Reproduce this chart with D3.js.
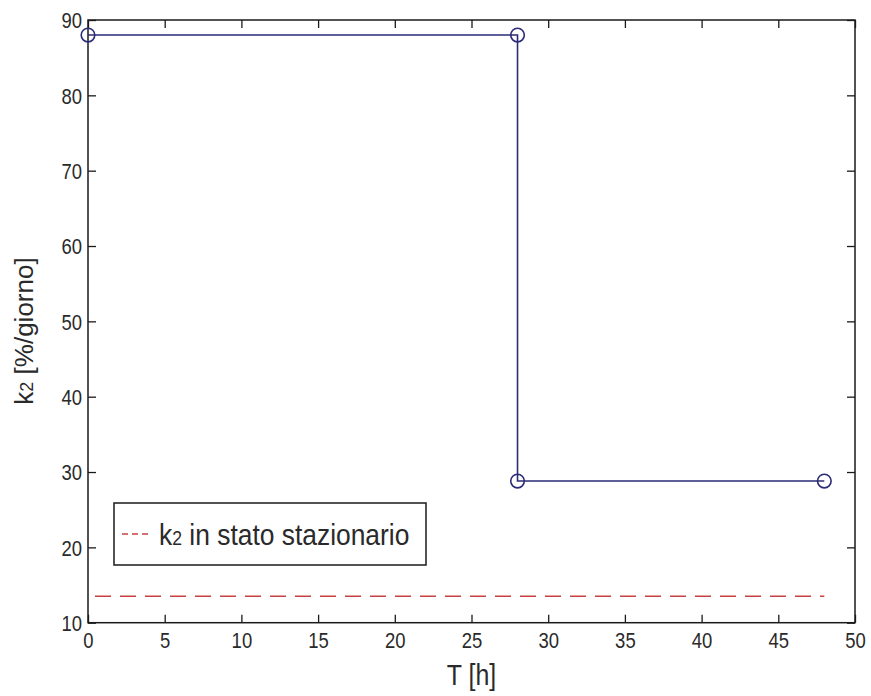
<!DOCTYPE html>
<html>
<head>
<meta charset="utf-8">
<script src="https://cdn.jsdelivr.net/npm/d3@7"></script>
<style>
  html, body { margin: 0; padding: 0; background: #fff; }
  svg { display: block; font-family: "Liberation Sans", Arial, Helvetica, sans-serif; }
</style>
</head>
<body>
<svg id="chart" width="871" height="696"></svg>
<script>
// Time points [h] and k2 values [%/giorno] of the step profile
const timeH = [0, 28, 28, 48];
const k2Values = [88, 88, 28.8, 28.8];

// Steady-state k2 reference line
const steadyK2 = 13.5;
const steadyRange = [0, 48];

// Axis ticks
const xTicks = [0, 5, 10, 15, 20, 25, 30, 35, 40, 45, 50];
const yTicks = [10, 20, 30, 40, 50, 60, 70, 80, 90];

const xLabel = "T [h]";
const legendLabel = ["k", "2", " in stato stazionario"];

const W = 871, H = 696;
const margin = { left: 88, top: 20, right: W - 855, bottom: H - 622.7 };
const pw = W - margin.left - margin.right;
const ph = H - margin.top - margin.bottom;

const svg = d3.select("#chart");
const g = svg.append("g").attr("transform", `translate(${margin.left},${margin.top})`);

const x = d3.scaleLinear().domain([0, 50]).range([0, pw]);
const y = d3.scaleLinear().domain([10, 90]).range([ph, 0]);

const axisColor = "#1a1a1a";
const tickFont = 21.5;
const narrow = 0.86;

function styleAxis(sel, withLabels) {
  sel.select(".domain").remove();
  sel.selectAll(".tick line").attr("stroke", axisColor).attr("stroke-width", 1.3);
  sel.selectAll("text")
    .attr("fill", "#2a2a2a")
    .style("font-size", tickFont + "px");
  if (!withLabels) sel.selectAll("text").remove();
}

// Bottom axis with inward ticks
const gx = g.append("g").attr("transform", `translate(0,${ph})`)
  .call(d3.axisBottom(x).tickValues(xTicks).tickSize(-8).tickPadding(9).tickFormat(d3.format("d")));
styleAxis(gx, true);
gx.selectAll("text").attr("transform", `scale(${narrow},1)`).attr("dy", "0.76em");

// Top axis (ticks only)
const gxt = g.append("g")
  .call(d3.axisTop(x).tickValues(xTicks).tickSize(-8).tickFormat(""));
styleAxis(gxt, false);

// Left axis
const gy = g.append("g")
  .call(d3.axisLeft(y).tickValues(yTicks).tickSize(-8).tickPadding(7).tickFormat(d3.format("d")));
styleAxis(gy, true);
gy.selectAll("text").attr("transform", `scale(${narrow},1)`).attr("dy", "0.36em");

// Right axis (ticks only)
const gyr = g.append("g").attr("transform", `translate(${pw},0)`)
  .call(d3.axisRight(y).tickValues(yTicks).tickSize(-8).tickFormat(""));
styleAxis(gyr, false);

// Plot frame
g.append("rect")
  .attr("x", 0).attr("y", 0).attr("width", pw).attr("height", ph)
  .attr("fill", "none").attr("stroke", axisColor).attr("stroke-width", 1.5);

// Steady-state dashed line
const red = "#c94040";
g.append("line")
  .attr("x1", x(steadyRange[0])).attr("x2", x(steadyRange[1]))
  .attr("y1", y(steadyK2)).attr("y2", y(steadyK2))
  .attr("stroke", red).attr("stroke-width", 1.5)
  .attr("stroke-dasharray", "16,9").attr("stroke-dashoffset", 18);

// Step profile
const navy = "#2b2b78";
const pts = timeH.map((t, i) => [t, k2Values[i]]);
g.append("path")
  .datum(pts)
  .attr("d", d3.line().x(d => x(d[0])).y(d => y(d[1])))
  .attr("fill", "none").attr("stroke", navy).attr("stroke-width", 1.6);

g.selectAll("circle.pt").data(pts).enter().append("circle")
  .attr("class", "pt")
  .attr("cx", d => x(d[0])).attr("cy", d => y(d[1])).attr("r", 6.8)
  .attr("fill", "none").attr("stroke", navy).attr("stroke-width", 1.6);

// Axis labels
const xlX = margin.left + pw / 2, xlScale = 0.86;
svg.append("text")
  .attr("x", xlX).attr("y", 685)
  .attr("text-anchor", "middle")
  .attr("fill", "#2a2a2a")
  .style("font-size", "29px")
  .attr("transform", `translate(${xlX * (1 - xlScale)},0) scale(${xlScale},1)`)
  .text(xLabel);

const yl = svg.append("text")
  .attr("transform", "translate(33,331) rotate(-90)")
  .attr("text-anchor", "middle")
  .attr("fill", "#2a2a2a")
  .style("font-size", "26px");
yl.append("tspan").text("k");
yl.append("tspan").style("font-size", "18px").text("2");
yl.append("tspan").text(" [%/giorno]");

// Legend
const lg = svg.append("g");
lg.append("rect")
  .attr("x", 114).attr("y", 503).attr("width", 312).attr("height", 62)
  .attr("fill", "#fff").attr("stroke", axisColor).attr("stroke-width", 1.5);
lg.append("line")
  .attr("x1", 122).attr("x2", 151).attr("y1", 534).attr("y2", 534)
  .attr("stroke", red).attr("stroke-width", 1.3)
  .attr("stroke-dasharray", "6,4");
const ltX = 159, ltScale = 0.88;
const lt = lg.append("text")
  .attr("x", ltX).attr("y", 545)
  .attr("fill", "#2a2a2a")
  .style("font-size", "30px")
  .attr("transform", `translate(${ltX * (1 - ltScale)},0) scale(${ltScale},1)`);
lt.append("tspan").text(legendLabel[0]);
lt.append("tspan").style("font-size", "20px").text(legendLabel[1]);
lt.append("tspan").text(legendLabel[2]);
</script>
</body>
</html>
